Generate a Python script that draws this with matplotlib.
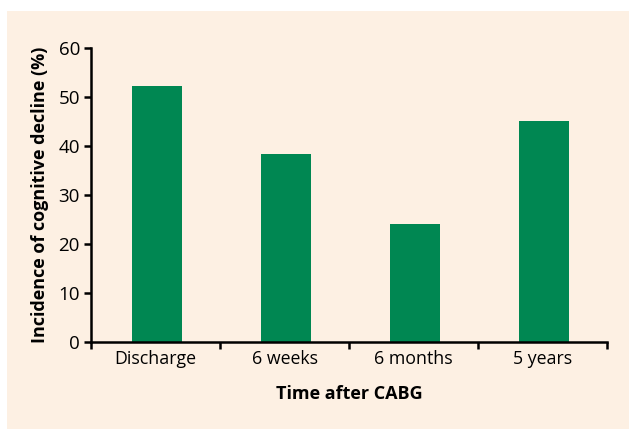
import matplotlib
matplotlib.use("Agg")
import matplotlib.pyplot as plt
from matplotlib.patches import Rectangle
import numpy as np

categories = ["Discharge", "6 weeks", "6 months", "5 years"]
incidence = [52.3, 38.4, 24.0, 45.2]
y_ticks = [0, 10, 20, 30, 40, 50, 60]

bg = "#fdf0e3"
green = "#008752"

plt.rcParams['font.family'] = ['Open Sans', 'DejaVu Sans']

fig = plt.figure(figsize=(6.29, 4.29), dpi=100)
fig.patch.set_facecolor("white")

# peach panel behind the chart
panel = fig.add_axes([7 / 629, 0, 1 - 7 / 629, 1 - 11 / 429], zorder=-1)
panel.add_patch(Rectangle((0, 0), 1, 1, facecolor=bg, edgecolor="none"))
panel.axis("off")

ax = fig.add_axes([91 / 629, 87 / 429, 516 / 629, 294 / 429], zorder=1)
ax.set_facecolor("none")

x = np.arange(len(categories))
ax.bar(x + 0.01, incidence, width=0.385, color=green, zorder=2)

ax.set_xlim(-0.5, len(categories) - 0.5)
ax.set_ylim(0, 60)
ax.set_yticks(y_ticks)
ax.set_xticks(x)
ax.set_xticklabels(categories)
ax.set_xticks(np.arange(len(categories) + 1) - 0.5, minor=True)
ax.tick_params(axis="x", which="major", length=0, pad=6, labelsize=12.8)
ax.tick_params(axis="x", which="minor", length=5, width=1.8, direction="out")
ax.tick_params(axis="y", length=5, width=1.8, labelsize=13.5, pad=3)

for s in ["top", "right"]:
    ax.spines[s].set_visible(False)
for s in ["left", "bottom"]:
    ax.spines[s].set_linewidth(1.8)

ax.set_ylabel("Incidence of cognitive decline (%)", fontsize=13,
              fontweight="bold", labelpad=7)
ax.set_xlabel("Time after CABG", fontsize=13, fontweight="bold", labelpad=12)

fig.savefig("out.png", dpi=100)
